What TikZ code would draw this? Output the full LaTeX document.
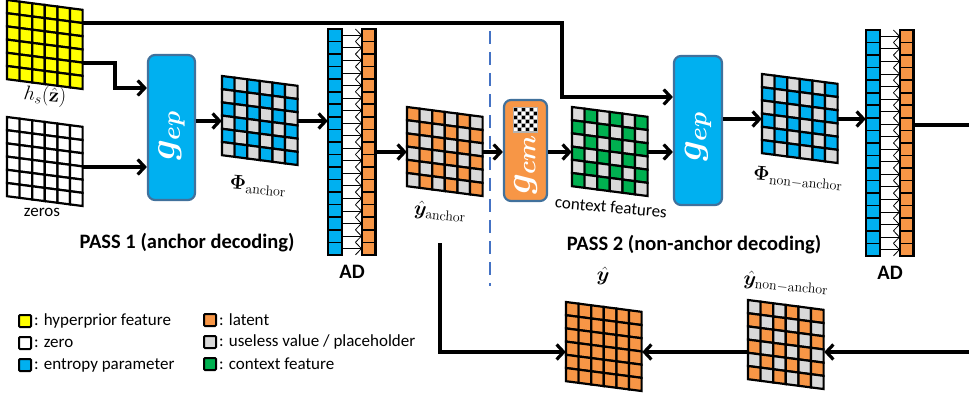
\RequirePackage{fix-cm}
\documentclass[tikz,border=0pt]{standalone}
\usepackage{amsmath,bm}
\usepackage[no-math]{fontspec}
\setmainfont{Carlito}
\usetikzlibrary{arrows.meta,positioning}

\definecolor{hyper}{HTML}{FFFF00}
\definecolor{entropy}{HTML}{00B0F0}
\definecolor{latent}{HTML}{F79646}
\definecolor{useless}{HTML}{D9D9D9}
\definecolor{ctxgreen}{HTML}{00B050}
\definecolor{boxedge}{HTML}{41719C}
\definecolor{passline}{HTML}{4472C4}

\tikzset{
  arr/.style={line width=3.2pt,-{Straight Barb[length=7pt,width=15pt]}},
  wire/.style={line width=3.2pt},
  mapcell/.style={line width=2.2pt,draw=black},
  mapbox/.style={inner sep=0pt,minimum width=76pt,minimum height=50pt},
  adcell/.style={line width=1.6pt,draw=black},
  adedge/.style={line width=2.6pt},
  adarrow/.style={line width=0.8pt,-{Straight Barb[length=6pt,width=12.5pt]}},
  adbox/.style={inner sep=0pt,minimum width=48pt,minimum height=200pt},
  gbox/.style={draw=boxedge,line width=2.2pt,rounded corners=7pt,inner sep=0pt},
  glabel/.style={text=white,font=\fontsize{36}{36}\selectfont},
  maplabel/.style={font=\fontsize{20}{22}\selectfont,rotate=-5,inner sep=1pt},
  textlabel/.style={font=\fontsize{17}{20}\selectfont,inner sep=1pt},
  passlabel/.style={font=\fontsize{20.5}{24}\selectfont\bfseries,inner sep=1pt},
  legsq/.style={draw=black,line width=2pt,rounded corners=1pt,minimum size=12pt,inner sep=0pt},
  legtxt/.style={font=\fontsize{17}{20}\selectfont,inner sep=1pt},
  divider/.style={draw=passline,line width=1.5pt,dash pattern=on 13pt off 8pt},
}

% 6x6 feature map: name, top-left x, y, colour of even / odd cells
\newcommand{\featmap}[5]{%
  \begin{scope}[shift={(#2,#3)},yslant=-0.13]
    \foreach \i in {0,...,5}
      \foreach \j in {0,...,5}{%
        \pgfmathtruncatemacro{\cellpar}{mod(\i+\j,2)}%
        \ifnum\cellpar=0 \def\cellcol{#4}\else\def\cellcol{#5}\fi
        \filldraw[mapcell,fill=\cellcol] (\i*12.6,\j*13.2) rectangle ++(12.6,13.2);
      }
  \end{scope}
  \node[mapbox] (#1) at (#2+38,#3+45) {};
}

% arithmetic decoder: name, left x, top y
\newcommand{\adpair}[3]{%
  \foreach \k in {0,...,17}{%
    \filldraw[adcell,fill=entropy] (#2,#3+\k*12.55) rectangle ++(14,12.55);
    \filldraw[adcell,fill=latent] (#2+34,#3+\k*12.55) rectangle ++(13.5,12.55);
    \draw[adarrow] (#2+14,#3+\k*12.55+6.275) -- (#2+34,#3+\k*12.55+6.275);
  }
  \draw[adedge] (#2,#3) rectangle ++(14,225.9) (#2+34,#3) rectangle ++(13.5,225.9);
  \node[adbox] (#1) at (#2+24,#3+113) {};
}

\begin{document}
\begin{tikzpicture}[x=1pt,y=-1pt]
\useasboundingbox (0,0) rectangle (969,398);

% pass 1
\featmap{hs}{7}{0}{hyper}{hyper}
\featmap{zeros}{7}{117}{white}{white}
\node[gbox,fill=entropy,minimum width=47pt,minimum height=145pt,
  label={[glabel,yshift=-8pt]center:\rotatebox{90}{$\bm{g_{ep}}$}}] (gep1) at (171.5,127.5) {};
\featmap{phiA}{222}{76}{entropy}{useless}
\adpair{ad1}{328}{29}
\featmap{yA}{407}{107}{latent}{useless}

\node[maplabel] at (45,96) {$h_s(\hat{\mathbf{z}})$};
\node[textlabel] at (42,212) {zeros};
\node[maplabel] at (258,186) {$\bm{\Phi}_{\mathrm{anchor}}$};
\node[maplabel] at (440,212) {$\hat{\bm{y}}_{\mathrm{anchor}}$};
\node[passlabel] at (352,272) {AD};
\node[passlabel] at (187,243) {PASS 1 (anchor decoding)};

\draw[divider] (490,31) -- (490,286);

% pass 2
\node[gbox,fill=latent,minimum width=43pt,minimum height=101pt,
  label={[glabel,yshift=-14pt]center:\rotatebox{90}{$\bm{g_{cm}}$}}] (gcm) at (525.5,150.5) {};
\fill[gray!60] (513,107) rectangle (538,133);
\foreach \i in {0,...,5}
  \foreach \j in {0,...,5}{
    \pgfmathtruncatemacro{\dotpar}{mod(\i+\j,2)}
    \ifnum\dotpar=0 \fill[black] (514.2+\i*4,108.2+\j*4) rectangle ++(2.6,2.6);
    \else \fill[white] (514.2+\i*4,108.2+\j*4) rectangle ++(2.6,2.6); \fi
  }
\featmap{ctx}{572}{107}{useless}{ctxgreen}
\node[gbox,fill=entropy,minimum width=48pt,minimum height=149pt,
  label={[glabel,yshift=-6pt]center:\rotatebox{90}{$\bm{g_{ep}}$}}] (gep2) at (698,130.5) {};
\featmap{phiN}{762}{74}{useless}{entropy}
\adpair{ad2}{866}{30}
\featmap{yN}{748}{300}{useless}{latent}
\featmap{yhat}{566}{302}{latent}{latent}

\node[textlabel,rotate=-5] at (611,207) {context features};
\node[maplabel] at (798,179) {$\bm{\Phi}_{\mathrm{non{-}anchor}}$};
\node[passlabel] at (890,273) {AD};
\node[passlabel] at (694,245) {PASS 2 (non-anchor decoding)};
\node[maplabel,rotate=0] at (603,276) {$\hat{\bm{y}}$};
\node[maplabel] at (786,283) {$\hat{\bm{y}}_{\mathrm{non{-}anchor}}$};

% connectors
\coordinate (k1) at (562,97);
\coordinate (k2) at (115,88);
\coordinate (k3) at (440,243);
\coordinate (r1) at (969,125);
\coordinate (r2) at (969,352);
\coordinate (z1) at ([yshift=-5pt]zeros.east);

\draw[arr] ([yshift=22pt]hs.east) -| (k1) -- (k1 -| gep2.west);
\draw[arr] ([yshift=-18pt]hs.east) -| (k2) -- (k2 -| gep1.west);
\draw[arr] (z1) -- (z1 -| gep1.west);
\draw[arr] (gep1.east |- phiA.west) -- (phiA.west);
\draw[arr] (phiA.east) -- (phiA.east -| ad1.west);
\draw[arr] (yA.west -| ad1.east) -- (yA.west);
\draw[arr] (yA.east) -- (yA.east -| gcm.west);
\draw[arr] (ctx.west -| gcm.east) -- (ctx.west);
\draw[arr] (ctx.east) -- (ctx.east -| gep2.west);
\draw[arr] (phiN.west -| gep2.east) -- (phiN.west);
\draw[arr] (phiN.east) -- (phiN.east -| ad2.west);
\draw[wire] (r1 -| ad2.east) -- (r1);
\draw[arr] (r2) -- (r2 -| yN.east);
\draw[arr] (r2 -| yN.west) -- (r2 -| yhat.east);
\draw[arr] (k3) |- (r2 -| yhat.west);

% legend
\node[legsq,fill=hyper] (lgA) at (25,321) {};
\node[legtxt,right=1pt of lgA] {: hyperprior feature};
\node[legsq,fill=white] (lgB) at (25,343) {};
\node[legtxt,right=1pt of lgB] {: zero};
\node[legsq,fill=entropy] (lgC) at (25,365) {};
\node[legtxt,right=1pt of lgC] {: entropy parameter};
\node[legsq,fill=latent] (lgD) at (210,320) {};
\node[legtxt,right=1pt of lgD] {: latent};
\node[legsq,fill=useless] (lgE) at (210,342) {};
\node[legtxt,right=1pt of lgE] {: useless value / placeholder};
\node[legsq,fill=ctxgreen] (lgF) at (210,364) {};
\node[legtxt,right=1pt of lgF] {: context feature};
\end{tikzpicture}
\end{document}
